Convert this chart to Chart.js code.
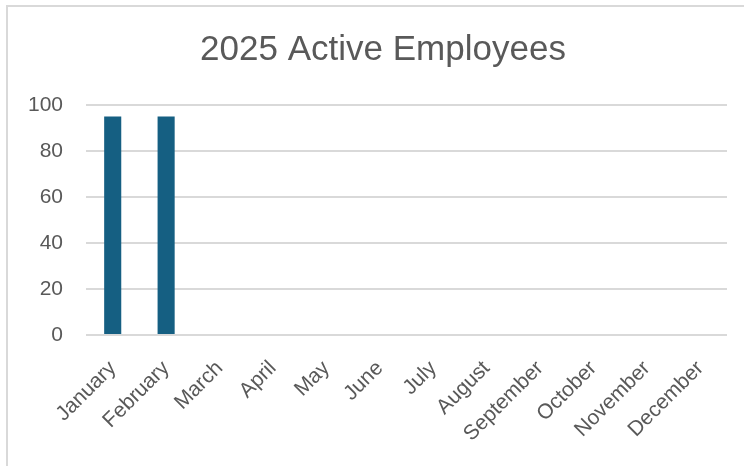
<!DOCTYPE html>
<html>
<head>
<meta charset="utf-8">
<script src="https://cdn.jsdelivr.net/npm/chart.js@4/dist/chart.umd.min.js"></script>
<style>
  html, body { margin: 0; padding: 0; background: #ffffff; }
  #wrap { position: relative; width: 744px; height: 466px; overflow: hidden; }
  #frame { position: absolute; left: 6px; top: 5px; width: 800px; height: 470px; border: 2px solid #d9d9d9; box-sizing: border-box; }
  canvas { position: absolute; left: 0; top: 0; }
</style>
</head>
<body>
<div id="wrap">
  <div id="frame"></div>
  <canvas id="c" width="766" height="466"></canvas>
</div>
<script>
const titleText = "2025 Active Employees";
const categories = ["January", "February", "March", "April", "May", "June", "July", "August", "September", "October", "November", "December"];
const activeEmployees = [95, 95, null, null, null, null, null, null, null, null, null, null];
const yTicks = [0, 20, 40, 60, 80, 100];

const textColor = "#595959";
const gridColor = "#d9d9d9";

new Chart(document.getElementById("c"), {
  type: "bar",
  data: {
    labels: categories,
    datasets: [{
      label: "Active Employees",
      data: activeEmployees,
      backgroundColor: "#155f82",
      borderWidth: 0,
      categoryPercentage: 1.0,
      barPercentage: 0.32
    }]
  },
  options: {
    responsive: false,
    animation: false,
    layout: { padding: { left: 0, right: 0, top: 29, bottom: 0 } },
    plugins: {
      legend: { display: false },
      tooltip: { enabled: false },
      title: {
        display: true,
        text: titleText,
        color: textColor,
        font: { family: "'Liberation Sans', Arial, sans-serif", size: 35, weight: "normal" },
        padding: { top: 0, bottom: 34 }
      }
    },
    scales: {
      x: {
        grid: { display: false },
        border: { display: false },
        ticks: {
          color: textColor,
          font: { family: "'Liberation Sans', Arial, sans-serif", size: 21 },
          minRotation: 45,
          maxRotation: 45,
          autoSkip: false,
          padding: 13
        },
        afterFit: (s) => { s.height = 131; }
      },
      y: {
        min: 0,
        max: 100,
        afterBuildTicks: (s) => { s.ticks = yTicks.map(v => ({ value: v })); },
        grid: { color: gridColor, lineWidth: 2, drawTicks: false },
        border: { display: false },
        ticks: {
          color: textColor,
          font: { family: "'Liberation Sans', Arial, sans-serif", size: 21 },
          padding: 23
        },
        afterFit: (s) => { s.width = 86; }
      },
      yRight: {
        type: "linear",
        position: "right",
        display: true,
        grid: { display: false, drawOnChartArea: false },
        border: { display: false },
        ticks: { display: false },
        afterFit: (s) => { s.width = 39; }
      }
    }
  }
});
</script>
</body>
</html>
